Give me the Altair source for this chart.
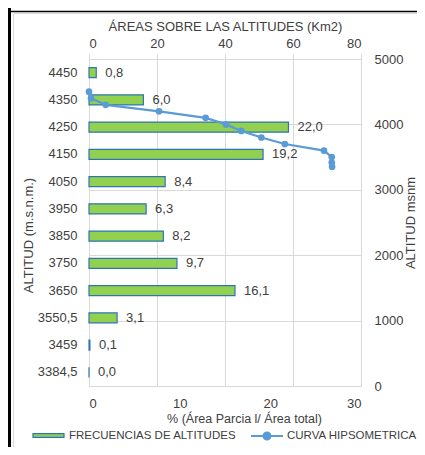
import altair as alt
import pandas as pd

# ---------------- data ----------------
categories = ["4450", "4350", "4250", "4150", "4050", "3950", "3850", "3750",
              "3650", "3550,5", "3459", "3384,5"]
percent = [0.8, 6.0, 22.0, 19.2, 8.4, 6.3, 8.2, 9.7, 16.1, 3.1, 0.1, 0.0]
percent_labels = ["0,8", "6,0", "22,0", "19,2", "8,4", "6,3", "8,2", "9,7",
                  "16,1", "3,1", "0,1", "0,0"]

curve_altitude = [4500, 4400, 4300, 4200, 4100, 4000, 3900, 3800, 3700, 3600,
                  3501, 3417, 3352]
curve_area = [0, 0.6, 4.9, 20.6, 34.3, 40.3, 44.8, 50.7, 57.6, 69.1, 71.4,
              71.4, 71.5]

bar_series = "FRECUENCIAS DE ALTITUDES"
line_series = "CURVA HIPSOMETRICA"
frame_title = "CURVA HIPSOMÉTRICA Y FRECUENCIA DE ALTITUDES"

top_ticks = [0, 20, 40, 60, 80]
bottom_ticks = [0, 10, 20, 30]
right_ticks = list(range(0, 5001, 500))

# ---------------- style ----------------
FONT = "Liberation Sans"
TEXT = "#404040"
GRID = "#D9D9D9"
GREEN = "#92D050"
BAR_EDGE = "#2E75B6"
BLUE = "#5B9BD5"
W, H = 272, 327

bars_df = pd.DataFrame({"alt": categories, "pct": percent,
                        "lab": percent_labels, "serie": bar_series})
curve_df = pd.DataFrame({"area": curve_area, "altitud": curve_altitude,
                         "orden": list(range(len(curve_area))),
                         "serie": line_series})
one = pd.DataFrame({"k": [0]})

# ---------------- bars (bottom / left axes) ----------------
y_band = alt.Y(
    "alt:N", sort=categories,
    scale=alt.Scale(domain=categories, paddingInner=0.633, paddingOuter=0.3165),
    axis=alt.Axis(orient="left", title="ALTITUD (m.s.n.m.)", ticks=False,
                  tickSize=0, domainColor=GRID, labelPadding=12,
                  labelFontSize=13, titleAngle=270, titleX=-56.4, titleY=176,
                  titleAlign="center", titleBaseline="alphabetic"))
x_pct = alt.X(
    "pct:Q", scale=alt.Scale(domain=[0, 30], nice=False),
    axis=alt.Axis(orient="bottom", values=bottom_ticks, grid=False,
                  ticks=False, tickSize=0, domainColor=GRID, labelPadding=21.5,
                  labelBaseline="alphabetic", labelFontSize=13,
                  title="% (Área Parcia l/ Área total)", titleFontSize=12.5,
                  titleX=155, titleY=36.5, titleAlign="center",
                  titleBaseline="alphabetic"))

bars = alt.Chart(bars_df).mark_bar(stroke=BAR_EDGE, strokeWidth=1.2).encode(
    x=x_pct, y=y_band,
    fill=alt.Fill("serie:N", scale=alt.Scale(domain=[bar_series], range=[GREEN]),
                  legend=alt.Legend(orient="none", legendX=-57, legendY=360,
                                    title=None, padding=0, labelLimit=0,
                                    symbolType="M-1,-0.12H1V0.12H-1Z",
                                    symbolSize=961, symbolStrokeColor=BAR_EDGE,
                                    symbolStrokeWidth=1.2, labelOffset=4)))
bar_text = alt.Chart(bars_df).mark_text(
    align="left", baseline="middle", dx=9, font=FONT, fontSize=13, color=TEXT
).encode(x="pct:Q", y=alt.Y("alt:N", sort=categories), text="lab:N")
bar_layer = alt.layer(bars, bar_text)

# ---------------- curve (top / right axes) ----------------
x_area = alt.X(
    "area:Q", scale=alt.Scale(domain=[0, 80], nice=False),
    axis=alt.Axis(orient="top", values=top_ticks, grid=True, gridColor=GRID,
                  domainColor=GRID, tickColor=GRID, tickSize=5,
                  labelPadding=6.7, labelBaseline="alphabetic",
                  labelFontSize=13,
                  title="ÁREAS SOBRE LAS ALTITUDES (Km2)", titleX=136,
                  titleY=-28.3, titleAlign="center", titleBaseline="alphabetic"))
y_alt = alt.Y(
    "altitud:Q", scale=alt.Scale(domain=[0, 5000], nice=False),
    axis=alt.Axis(orient="right", values=right_ticks, format="d", grid=True,
                  gridColor=GRID, domain=False, ticks=False, tickSize=0,
                  labelPadding=13, labelAlign="left", labelBaseline="middle",
                  labelFontSize=13, title="ALTITUD msnm", titleAngle=270,
                  titleX=53, titleY=163.5, titleAlign="center",
                  titleBaseline="alphabetic"))

line = alt.Chart(curve_df).mark_line(strokeWidth=2.25).encode(
    x=x_area, y=y_alt, order="orden:Q",
    stroke=alt.Stroke("serie:N", scale=alt.Scale(domain=[line_series], range=[BLUE]),
                      legend=alt.Legend(orient="none", legendX=161, legendY=360,
                                        title=None, padding=0, labelLimit=0,
                                        symbolType="M-1,0H1M-0.22,0A0.22,0.22,0,1,1,0.22,0A0.22,0.22,0,1,1,-0.22,0Z",
                                        symbolSize=1024, symbolFillColor=BLUE,
                                        symbolStrokeWidth=2, labelOffset=3)))
dots = alt.Chart(curve_df).mark_circle(size=45, color=BLUE, opacity=1).encode(
    x="area:Q", y="altitud:Q")
curve_layer = alt.layer(line, dots)

# ---------------- frame (cropped document border) ----------------
black_v = alt.Chart(one).mark_rule(color="black", strokeWidth=3).encode(
    x=alt.value(-79.5), y=alt.value(-51), y2=alt.value(388))
black_h = alt.Chart(one).mark_rule(color="black", strokeWidth=1.3).encode(
    x=alt.value(-81), x2=alt.value(328), y=alt.value(-47.5))
gray_v = alt.Chart(one).mark_rule(color=GRID, strokeWidth=1).encode(
    x=alt.value(-75.5), y=alt.value(-45.5), y2=alt.value(388))
gray_h = alt.Chart(one).mark_rule(color=GRID, strokeWidth=1).encode(
    x=alt.value(-75.5), x2=alt.value(328), y=alt.value(-45.5))
# the document heading above the chart is cropped off in the reference
cut_title = alt.Chart(one).mark_text(
    font=FONT, fontSize=13, color="black", align="center",
    baseline="alphabetic").encode(
    x=alt.value(123), y=alt.value(-52), text=alt.value(frame_title))

chart = alt.layer(
    black_v, black_h, gray_v, gray_h, cut_title, bar_layer, curve_layer
).resolve_scale(
    x="independent", y="independent"
).properties(
    width=W, height=H,
    autosize=alt.AutoSizeParams(type="none"),
    padding={"left": 81, "top": 51, "right": 56, "bottom": 61},
    background="white",
).configure_view(
    strokeWidth=0
).configure_axis(
    labelFont=FONT, titleFont=FONT, labelColor=TEXT, titleColor=TEXT,
    titleFontSize=13, titleFontWeight="normal"
).configure_legend(
    labelFont=FONT, labelFontSize=11.5, labelColor=TEXT
)

chart.save("out.html", embed_options={"renderer": "svg", "actions": False})
